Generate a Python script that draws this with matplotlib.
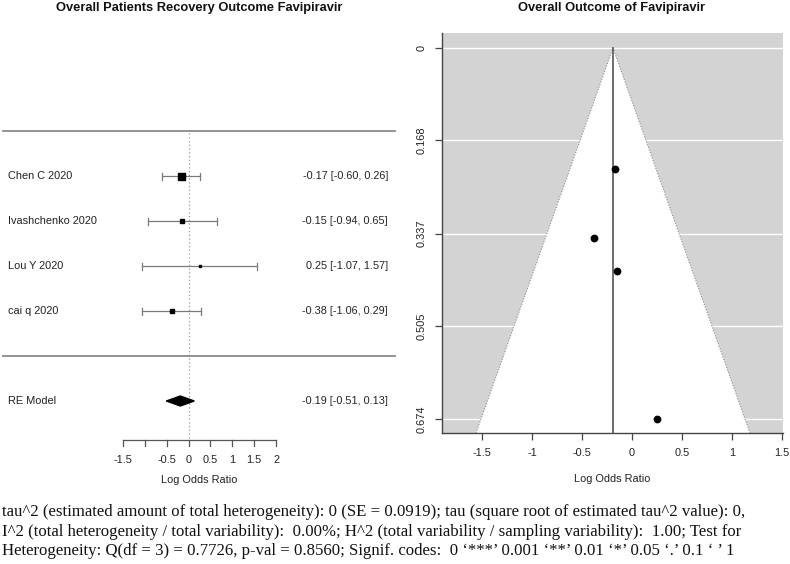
import matplotlib
matplotlib.use("Agg")
import matplotlib.pyplot as plt
from matplotlib.transforms import blended_transform_factory
import numpy as np

# ---------------- data ----------------
studies = ["Chen C 2020", "Ivashchenko 2020", "Lou Y 2020", "cai q 2020"]
est = [-0.17, -0.15, 0.25, -0.38]
ci_lb = [-0.60, -0.94, -1.07, -1.06]
ci_ub = [0.26, 0.65, 1.57, 0.29]
re_label = "RE Model"
re_est, re_lb, re_ub = -0.19, -0.51, 0.13
forest_ticks = [-1.5, -1, -0.5, 0, 0.5, 1, 1.5, 2]
forest_ticklabels = ["-1.5", "", "-0.5", "0", "0.5", "1", "1.5", "2"]
funnel_xticks = [-1.5, -1, -0.5, 0, 0.5, 1, 1.5]
funnel_xticklabels = ["-1.5", "-1", "-0.5", "0", "0.5", "1", "1.5"]
funnel_yticks = [0, 0.168, 0.337, 0.505, 0.674]
funnel_yticklabels = ["0", "0.168", "0.337", "0.505", "0.674"]
title_left = "Overall Patients Recovery Outcome Favipiravir"
title_right = "Overall Outcome of Favipiravir"
xlabel = "Log Odds Ratio"
footer_lines = [
    "tau^2 (estimated amount of total heterogeneity): 0 (SE = 0.0919); tau (square root of estimated tau^2 value): 0,",
    "I^2 (total heterogeneity / total variability):  0.00%; H^2 (total variability / sampling variability):  1.00; Test for",
    "Heterogeneity: Q(df = 3) = 0.7726, p-val = 0.8560; Signif. codes:  0 \u2018***\u2019 0.001 \u2018**\u2019 0.01 \u2018*\u2019 0.05 \u2018.\u2019 0.1 \u2018 \u2019 1",
]

SANS = "Liberation Sans"
SERIF = "Liberation Serif"
W, H = 790, 564
fig = plt.figure(figsize=(W / 100, H / 100), dpi=100)

# ---------------- forest plot ----------------
X0PX, XS = 188.6, 43.7          # pixel of x=0, pixels per unit
ROW0PX, RS = 356.0, 45.0        # pixel of row 0, pixels per row
LW_PX = 400
ax1 = fig.add_axes([0, 0, LW_PX / W, 1])
ax1.set_xlim(-X0PX / XS, (LW_PX - X0PX) / XS)
ax1.set_ylim((ROW0PX - H) / RS, ROW0PX / RS)
ax1.axis("off")
bt = blended_transform_factory(ax1.transAxes, ax1.transData)

k = len(studies)
rows = np.arange(k, 0, -1)
se = (np.array(ci_ub) - np.array(ci_lb)) / 3.92
w = 1 / se ** 2
wn = (w - w.min()) / (w.max() - w.min())
sq_px = 2.5 + 4.5 * wn
grey = "#7a7a7a"
cap = 3.5 / RS
for r, e, lb, ub, s, name in zip(rows, est, ci_lb, ci_ub, sq_px, studies):
    ax1.plot([lb, ub], [r, r], color=grey, lw=0.9, zorder=2)
    ax1.plot([lb, lb], [r - cap, r + cap], color=grey, lw=0.9, zorder=2)
    ax1.plot([ub, ub], [r - cap, r + cap], color=grey, lw=0.9, zorder=2)
    ax1.plot([e], [r], marker="s", ms=s * 0.72, color="black", mec="black", zorder=3)
    ax1.text(8 / LW_PX, r, name, transform=bt, ha="left", va="center",
             fontsize=7.9, family=SANS, color="#222222")
    ax1.text(388 / LW_PX, r, f"{e:.2f} [{lb:.2f}, {ub:.2f}]", transform=bt,
             ha="right", va="center", fontsize=7.8, family=SANS, color="#222222")

# horizontal separators
for yy in (k + 1, 0):
    ax1.plot([3 / LW_PX, 395 / LW_PX], [yy, yy], transform=bt, color="#8a8a8a", lw=1.3)

# RE model diamond
re_row = -1
hh = 5 / RS
ax1.fill([re_lb, re_est, re_ub, re_est], [re_row, re_row + hh, re_row, re_row - hh],
         color="black", zorder=3)
ax1.text(8 / LW_PX, re_row, re_label, transform=bt, ha="left", va="center",
         fontsize=7.9, family=SANS, color="#222222")
ax1.text(388 / LW_PX, re_row, f"{re_est:.2f} [{re_lb:.2f}, {re_ub:.2f}]", transform=bt,
         ha="right", va="center", fontsize=7.8, family=SANS, color="#222222")

# x axis
ax_row = (ROW0PX - 440) / RS
ax1.plot([0, 0], [k + 1 - 2 / RS, ax_row], color="#999999", lw=0.9, ls=(0, (1, 2)), zorder=1)
ax1.plot([forest_ticks[0], forest_ticks[-1]], [ax_row, ax_row], color="#555555", lw=0.9)
for t, lab in zip(forest_ticks, forest_ticklabels):
    ax1.plot([t, t], [ax_row, ax_row - 6 / RS], color="#555555", lw=0.9)
    if lab:
        ax1.text(t, (ROW0PX - 460) / RS, lab, ha="center", va="center",
                 fontsize=7.9, family=SANS, color="#222222")
ax1.text(0.25, (ROW0PX - 480) / RS, xlabel, ha="center", va="center",
         fontsize=7.9, family=SANS, color="#222222")

# ---------------- funnel plot ----------------
L, R, T, B = 442, 783, 33, 433
ax2 = fig.add_axes([L / W, (H - B) / H, (R - L) / W, (B - T) / H])
ymax_v = 0.699
ax2.set_xlim(-1.9, 1.51)
ax2.set_ylim(ymax_v, -0.027)
ax2.set_facecolor("#d3d3d3")
for yt in funnel_yticks:
    ax2.axhline(yt, color="white", lw=1.0, zorder=1)
ax2.fill([re_est - 1.96 * ymax_v, re_est, re_est + 1.96 * ymax_v],
         [ymax_v, 0, ymax_v], color="white", zorder=2, lw=0)
ax2.plot([re_est - 1.96 * ymax_v, re_est, re_est + 1.96 * ymax_v],
         [ymax_v, 0, ymax_v], color="#8c8c8c", lw=0.8, ls=(0, (1, 1.5)), zorder=3)
ax2.plot([re_est, re_est], [0, ymax_v], color="#555555", lw=1.2, zorder=3)
ax2.plot(est, se, "o", color="black", ms=4.6, zorder=4)

for side in ("top", "right"):
    ax2.spines[side].set_visible(False)
for side in ("left", "bottom"):
    ax2.spines[side].set_color("#444444")
    ax2.spines[side].set_linewidth(1.0)
ax2.set_xticks(funnel_xticks)
ax2.set_xticklabels(funnel_xticklabels)
ax2.set_yticks(funnel_yticks)
ax2.set_yticklabels(funnel_yticklabels, rotation=90, va="center")
ax2.tick_params(axis="both", length=5, width=0.9, color="#444444",
                labelsize=7.9, labelcolor="#222222", pad=6)
for lab in ax2.get_xticklabels() + ax2.get_yticklabels():
    lab.set_family(SANS)
ax2.set_xlabel(xlabel, fontsize=7.9, family=SANS, color="#222222", labelpad=11)

# ---------------- titles ----------------
fig.text(199 / W, 1 - 8 / H, title_left, ha="center", va="center",
         fontsize=9.3, fontweight="bold", family=SANS, color="#111111")
fig.text(612 / W, 1 - 8 / H, title_right, ha="center", va="center",
         fontsize=9.3, fontweight="bold", family=SANS, color="#111111")

# ---------------- footer ----------------
baselines = [516, 535.5, 555]
renderer = fig.canvas.get_renderer()
probe = fig.text(0, 0, footer_lines[0], fontsize=10, family=SERIF)
wpx = probe.get_window_extent(renderer).width
probe.remove()
fs = 10 * 745 / wpx
for line, yb in zip(footer_lines, baselines):
    fig.text(2 / W, 1 - yb / H, line, ha="left", va="baseline",
             fontsize=fs, family=SERIF, color="#111111")

fig.savefig("out.png", dpi=100)
